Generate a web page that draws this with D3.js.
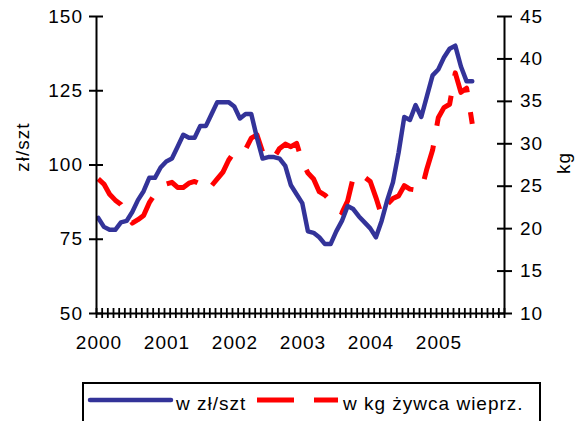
<!DOCTYPE html>
<html>
<head>
<meta charset="utf-8">
<script src="https://cdn.jsdelivr.net/npm/d3@7"></script>
<style>
  html, body { margin: 0; padding: 0; background: #fff; }
  svg { display: block; }
  text { font-family: "Liberation Sans", Arial, sans-serif; font-weight: normal; fill: #000; }
</style>
</head>
<body>
<div id="chart"></div>
<script>
// ---- data ----
const yearLabels = ["2000", "2001", "2002", "2003", "2004", "2005"];
const leftTicks = [50, 75, 100, 125, 150];
const rightTicks = [10, 15, 20, 25, 30, 35, 40, 45];
// monthly values, Jan 2000 .. Jul 2005
const pricePerHead = [82, 79, 78, 78, 80.5, 81, 84, 88, 91, 95.5, 95.5, 99,
  101, 102, 106, 110, 109, 109, 113, 113, 117, 121, 121, 121,
  119.5, 115.5, 117, 117, 109, 102, 102.5, 102.5, 102, 99.5, 93, 90,
  87, 77.5, 77, 75.5, 73.2, 73.2, 77.5, 81, 86, 85, 82.5, 80.5,
  78.5, 75.5, 81, 88, 94, 104, 116, 115, 120, 116, 123, 130,
  132, 136, 139, 140, 133, 128, 128];
const kgLive = [25.8, 25.2, 24.0, 23.3, 22.8, 21.8, 20.6, 21.0, 21.5, 23.0, 24.0, 24.7,
  25.2, 25.4, 24.8, 24.8, 25.3, 25.5, 25.2, 24.4, 25.0, 25.8, 26.6, 28.0,
  29.0, 28.8, 29.3, 30.6, 31.0, 29.0, 28.1, 28.3, 29.4, 29.9, 29.6, 30.0,
  27.8, 26.5, 25.8, 24.3, 23.9, 23.2, 22.5, 21.8, 23.2, 26.0, 26.5, 26.0,
  25.5, 23.6, 21.5, 22.8, 23.5, 23.8, 25.0, 24.6, 24.5, 24.4, 27.0, 29.2,
  33.0, 34.2, 34.6, 38.3, 36.0, 36.5, 32.3];
const seriesNames = ["w zł/szt", "w kg żywca wieprz."];
const axisTitles = ["zł/szt", "kg"];
const nMonths = 72;

// ---- layout ----
const W = 585, H = 421;
const svg = d3.select("#chart").append("svg").attr("width", W).attr("height", H);

const x = d3.scaleLinear().domain([0, nMonths]).range([96, 504]);
const yL = d3.scaleLinear().domain([50, 150]).range([313, 16]);
const yR = d3.scaleLinear().domain([10, 45]).range([313, 16]);
const off = 0.4;

const fontSize = "19px";

// series
const lineL = d3.line().x((d, i) => x(i + off)).y(d => yL(d));
const lineR = d3.line().x((d, i) => x(i + off)).y(d => yR(d));

svg.append("path").datum(kgLive).attr("d", lineR)
  .attr("fill", "none").attr("stroke", "#ff0000").attr("stroke-width", 5)
  .attr("stroke-dasharray", "35,20").attr("stroke-linejoin", "round");

svg.append("path").datum(pricePerHead).attr("d", lineL)
  .attr("fill", "none").attr("stroke", "#333399").attr("stroke-width", 4.5)
  .attr("stroke-linejoin", "round").attr("stroke-linecap", "round");

// axes
function styleAxis(g) {
  g.attr("font-family", null).attr("font-size", null);
  g.select(".domain").attr("stroke", "#000").attr("stroke-width", 2);
  g.selectAll(".tick line").attr("stroke", "#000").attr("stroke-width", 2);
  g.selectAll(".tick text").style("font-size", fontSize).style("letter-spacing", "1px")
    .style("font-weight", "normal").attr("fill", "#000");
}

const gL = svg.append("g").attr("transform", "translate(96,0)")
  .call(d3.axisLeft(yL).tickValues(leftTicks).tickSize(7).tickPadding(6).tickSizeOuter(0));
styleAxis(gL);
gL.selectAll(".tick line").attr("x1", 7);

const gR = svg.append("g").attr("transform", "translate(504,0)")
  .call(d3.axisRight(yR).tickValues(rightTicks).tickSize(8).tickPadding(8).tickSizeOuter(0));
styleAxis(gR);
gR.selectAll(".tick line").attr("x1", -7);

const gB = svg.append("g").attr("transform", "translate(0,313)")
  .call(d3.axisBottom(x).tickValues(d3.range(0, nMonths + 1)).tickSize(5).tickSizeOuter(0).tickFormat(""));
styleAxis(gB);
gB.selectAll(".tick line").attr("y1", -5).attr("stroke-width", 1.8);

// year labels
svg.append("g").selectAll("text").data(yearLabels).join("text")
  .attr("x", (d, i) => x(i * 12) + 3).attr("y", 349)
  .attr("text-anchor", "middle").style("font-size", fontSize).style("letter-spacing", "1px")
  .text(d => d);

// axis titles
svg.append("text").attr("transform", "translate(29,147) rotate(-90)")
  .attr("text-anchor", "middle").style("font-size", fontSize).style("letter-spacing", "1px")
  .text(axisTitles[0]);
svg.append("text").attr("transform", "translate(570,163) rotate(-90)")
  .attr("text-anchor", "middle").style("font-size", fontSize).style("letter-spacing", "1px")
  .text(axisTitles[1]);

// legend
const lg = svg.append("g");
lg.append("rect").attr("x", 83).attr("y", 383).attr("width", 457).attr("height", 60)
  .attr("fill", "#fff").attr("stroke", "#000").attr("stroke-width", 2);
lg.append("line").attr("x1", 90).attr("x2", 171).attr("y1", 400).attr("y2", 400)
  .attr("stroke", "#333399").attr("stroke-width", 4.5).attr("stroke-linecap", "round");
lg.append("text").attr("x", 176).attr("y", 409.5).style("font-size", fontSize).style("letter-spacing", "1px")
  .text(seriesNames[0]);
lg.append("line").attr("x1", 257).attr("x2", 338).attr("y1", 400).attr("y2", 400)
  .attr("stroke", "#ff0000").attr("stroke-width", 5).attr("stroke-dasharray", "37,20");
lg.append("text").attr("x", 343).attr("y", 409.5).style("font-size", fontSize).style("letter-spacing", "1px")
  .text(seriesNames[1]);
</script>
</body>
</html>
